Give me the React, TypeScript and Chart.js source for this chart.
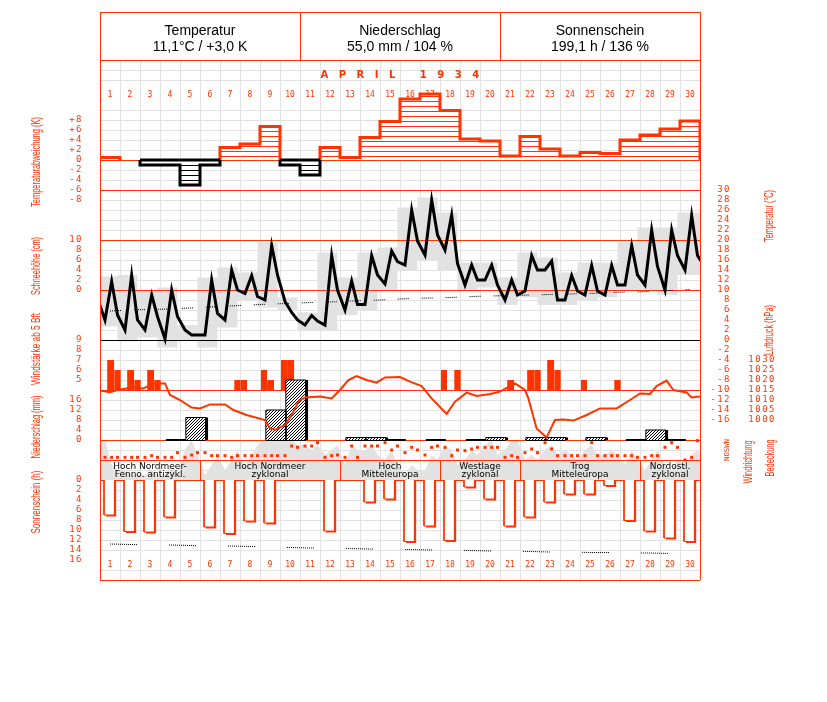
import React, { useEffect, useRef } from 'react';
import { Chart, registerables } from 'chart.js';

Chart.register(...registerables);

const RED = '#ff3300';
const GRID = '#e2e2e2';

// ---------- data ----------
const dayLabels = ['1','2','3','4','5','6','7','8','9','10','11','12','13','14','15','16','17','18','19','20','21','22','23','24','25','26','27','28','29','30'];
const obsHours = [6, 14, 21];

const headerTitles = ['Temperatur', 'Niederschlag', 'Sonnenschein'];
const headerValues = ['11,1°C / +3,0 K', '55,0 mm / 104 %', '199,1 h / 136 %'];
const monthTitle = 'APRIL 1934';

const tempAnomaly = [0.5, 0, -1.0, -1.0, -5.0, -1.0, 2.5, 3.2, 6.7, -1.0, -3.0, 2.5, 0.5, 4.5, 7.7, 12.2, 13.2, 9.9, 4.2, 3.8, 0.8, 4.7, 2.2, 0.8, 1.5, 1.3, 4.0, 5.0, 6.2, 7.8];

const temp06 = [4.0, 2.0, 2.0, 0.2, 2.0, 1.0, 4.0, 9.3, 8.0, 7.7, 3.0, 3.0, 6.0, 7.1, 11.2, 15.0, 17.0, 18.0, 11.0, 12.0, 8.0, 9.8, 14.0, 8.0, 9.0, 9.0, 11.0, 11.0, 10.0, 14.0];
const temp14 = [11.7, 13.0, 9.0, 10.0, 1.0, 12.0, 14.0, 12.9, 18.9, 5.5, 4.9, 16.9, 11.8, 16.9, 17.8, 26.0, 28.0, 25.0, 15.0, 15.0, 12.0, 16.9, 15.8, 12.9, 14.9, 14.9, 18.9, 22.0, 22.0, 24.9];
const temp21 = [5.0, 4.0, 4.7, 4.7, 1.0, 5.3, 10.0, 8.7, 13.0, 4.0, 3.8, 10.0, 7.1, 13.0, 15.7, 19.8, 21.0, 15.3, 12.0, 11.0, 9.0, 14.0, 8.0, 9.8, 9.8, 11.0, 13.0, 14.7, 16.9, 16.9];
const tempPrevEvening = 8.3;
const tempNextMorning = 14.5;
const tempMax = [12.7, 13.0, 9.8, 10.5, 3.0, 12.5, 14.5, 13.5, 19.5, 8.5, 5.5, 17.5, 12.5, 17.5, 18.5, 26.5, 28.5, 25.5, 15.5, 15.5, 12.5, 17.5, 16.5, 13.5, 15.5, 15.5, 19.5, 22.5, 22.5, 25.5];
const tempMin = [2.7, -0.3, 0.5, -1.5, 0.0, -1.5, 2.5, 8.0, 6.5, 6.0, 2.0, 2.0, 5.0, 6.0, 10.0, 14.0, 16.0, 14.0, 10.0, 10.5, 7.0, 8.5, 7.0, 7.0, 8.0, 8.5, 10.0, 10.0, 9.0, 13.0];
const tempNormal = [5.8, 6.0, 6.1, 6.2, 6.4, 6.6, 6.8, 7.0, 7.2, 7.3, 7.5, 7.6, 7.8, 7.9, 8.1, 8.3, 8.4, 8.5, 8.7, 8.8, 8.9, 9.0, 9.1, 9.2, 9.3, 9.5, 9.6, 9.7, 9.9, 10.1];

// wind force (Bft, only >= 5) per observation 6h / 14h / 21h
const wind06 = [null, null, null, null, null, null, null, 5, 6, 7, null, null, null, null, null, null, null, 6, null, null, null, null, null, null, 5, null, null, null, null, null];
const wind14 = [7, 6, 6, null, null, null, null, null, 5, 7, null, null, null, null, null, null, null, null, null, null, 5, 6, 7, null, null, null, null, null, null, null];
const wind21 = [6, 5, 5, null, null, null, 5, null, null, null, null, null, null, null, null, null, null, 6, null, null, null, 6, 6, null, null, 5, null, null, null, null];

// air pressure readings: [day (fraction of month), hPa]
const pressureReadings = [
  [0.0, 1014.7], [0.5, 1013.9], [1.0, 1015.3], [1.67, 1016.2], [2.15, 1015.8], [2.75, 1018.3], [3.25, 1018.3], [3.5, 1012.5],
  [4.0, 1010.0], [4.58, 1006.2], [5.0, 1005.8], [5.5, 1007.8], [6.25, 1007.8], [6.67, 1005.0], [7.33, 1002.5], [8.25, 1000.0],
  [8.5, 995.8], [8.75, 995.0], [9.25, 997.5], [9.58, 1002.5], [9.92, 1009.2], [10.25, 1011.3], [11.0, 1011.7], [11.58, 1010.8],
  [12.0, 1015.0], [12.42, 1020.0], [12.83, 1022.0], [13.33, 1020.0], [13.83, 1018.7], [14.25, 1021.3], [15.0, 1021.5], [15.5, 1019.2],
  [16.08, 1017.0], [16.58, 1010.8], [17.33, 1003.0], [17.75, 1009.2], [18.33, 1013.7], [18.83, 1012.0], [19.5, 1013.0], [20.0, 1014.2],
  [20.75, 1018.3], [21.25, 1015.0], [21.42, 1010.8], [21.83, 995.8], [22.33, 991.3], [22.75, 1000.0], [23.17, 1000.3], [23.67, 999.7],
  [24.33, 1002.5], [25.0, 1005.8], [25.83, 1005.8], [26.5, 1010.0], [27.0, 1013.3], [27.5, 1013.0], [27.83, 1017.0], [28.33, 1019.7],
  [28.67, 1015.0], [29.33, 1013.8], [29.58, 1011.3], [30.0, 1011.7]
];

// precipitation (mm, 7h to 7h), null = none, 0 = trace
const precipitation = [null, null, null, 0, 9.0, null, null, null, 12.0, 24.0, null, null, 1.0, 1.0, 0, null, 0, null, 0, 1.0, null, 1.0, 1.0, null, 1.0, null, 0, 4.0, 0, null];

// wind direction (degrees) per observation 6h / 14h / 21h
const dir06 = [48, 48, 48, 48, 48, 132, 78, 78, 78, 78, 252, 48, 48, 252, 312, 132, 90, 228, 168, 228, 48, 132, 312, 78, 78, 78, 78, 48, 228, 0];
const dir14 = [48, 48, 78, 48, 90, 78, 48, 78, 78, 252, 252, 78, 252, 252, 180, 228, 228, 78, 198, 228, 78, 198, 198, 78, 312, 78, 78, 78, 312, 48];
const dir21 = [48, 48, 48, 132, 132, 78, 78, 78, 78, 228, 312, 90, 48, 252, 252, 180, 252, 180, 228, 228, 48, 132, 78, 78, 78, 78, 48, 78, 228, 348];

// cloud cover (octas) per observation 6h / 14h / 21h
const cloud06 = [8, 2, 1, 1, 6, 1, 2, 3, 8, 8, 7, 5, 3, 6, 4, 1, 2, 7, 4, 7, 6, 4, 6, 6, 6, 5, 3, 2, 3, 3];
const cloud14 = [3, 1, 2, 3, 8, 3, 4, 5, 8, 8, 6, 6, 7, 7, 6, 3, 5, 6, 6, 8, 8, 5, 7, 5, 7, 6, 6, 4, 2, 5];
const cloud21 = [2, 1, 1, 1, 5, 5, 6, 7, 8, 7, 7, 7, 6, 5, 3, 2, 4, 3, 5, 5, 8, 4, 5, 4, 5, 5, 4, 6, 4, 6];

// sunshine duration (h) and possible sunshine (h)
const sunshine = [7.0, 10.3, 10.4, 7.4, 0, 9.4, 10.7, 8.2, 8.6, 0, 0, 10.2, 0, 4.4, 3.8, 12.3, 9.2, 12.1, 1.4, 3.8, 9.2, 7.4, 4.4, 2.8, 2.8, 1.1, 8.1, 10.2, 11.6, 12.3];
const sunPossible = [12.8, 12.9, 13.0, 13.0, 13.1, 13.2, 13.2, 13.3, 13.4, 13.5, 13.6, 13.6, 13.7, 13.8, 13.9, 13.9, 14.0, 14.0, 14.1, 14.2, 14.2, 14.3, 14.4, 14.4, 14.5, 14.5, 14.6, 14.6, 14.7, 14.7];

// weather types (Großwetterlagen)
const weatherStart = [1, 6, 13, 18, 22, 28];
const weatherEnd = [5, 12, 17, 21, 27, 30];
const weatherLine1 = ['Hoch Nordmeer-', 'Hoch Nordmeer', 'Hoch', 'Westlage', 'Trog', 'Nordostl.'];
const weatherLine2 = ['Fenno. antizykl.', 'zyklonal', 'Mitteleuropa', 'zyklonal', 'Mitteleuropa', 'zyklonal'];

// tick labels
const anomTicks = [8, 6, 4, 2, 0, -2, -4, -6, -8];
const anomTickLabels = ['+8', '+6', '+4', '+2', '0', '-2', '-4', '-6', '-8'];
const snowTicks = [10, 8, 6, 4, 2, 0];
const windTicks = [9, 8, 7, 6, 5];
const precipTicks = [16, 12, 8, 4, 0];
const sunTicks = [0, 2, 4, 6, 8, 10, 12, 14, 16];
const tempTicks = [30, 28, 26, 24, 22, 20, 18, 16, 14, 12, 10, 8, 6, 4, 2, 0, -2, -4, -6, -8, -10, -12, -14, -16];
const pressTicks = [1030, 1025, 1020, 1015, 1010, 1005, 1000];
const dirLabel = 'NOSWN';

// ---------- helpers ----------
const obsX = (d: number, k: number) => d + obsHours[k] / 24; // d = 0-based day index
const windSpans = [[1, 8.5], [8.5, 17], [17, 25]];

function runPoints(values: number[], pred: (v: number) => boolean) {
  const pts: any[] = [];
  let inRun = false;
  values.forEach((v, i) => {
    if (pred(v)) {
      if (!inRun) { pts.push({ x: i, y: 0 }); inRun = true; }
      pts.push({ x: i, y: v }, { x: i + 1, y: v });
    } else if (inRun) {
      pts.push({ x: i, y: 0 }, { x: i, y: null });
      inRun = false;
    }
  });
  if (inRun) pts.push({ x: values.length, y: 0 });
  return pts;
}

function runTops(values: number[], pred: (v: number) => boolean) {
  const pts: any[] = [];
  let start = -1;
  values.forEach((v, i) => {
    if (pred(v)) { if (start < 0) start = i; }
    else if (start >= 0) { pts.push({ x: start, y: 0 }, { x: i, y: 0 }, { x: i, y: null }); start = -1; }
  });
  if (start >= 0) pts.push({ x: start, y: 0 }, { x: values.length, y: 0 });
  return pts;
}

function rectPoints(items: { x0: number; x1: number; y0: number; y1: number }[]) {
  const pts: any[] = [];
  items.slice().sort((a, b) => a.x0 - b.x0).forEach((r) => {
    pts.push({ x: r.x0, y: r.y0 }, { x: r.x0, y: r.y1 }, { x: r.x1, y: r.y1 }, { x: r.x1, y: r.y0 }, { x: r.x1, y: null });
  });
  return pts;
}

function makePattern(kind: string) {
  const c = document.createElement('canvas');
  if (kind === 'hred' || kind === 'hblack') {
    c.width = 4; c.height = 5;
    const g = c.getContext('2d')!;
    g.fillStyle = '#ffffff'; g.fillRect(0, 0, 4, 5);
    g.fillStyle = kind === 'hred' ? RED : '#000000';
    g.fillRect(0, kind === 'hred' ? 1 : 0, 4, 1);
  } else {
    c.width = 3; c.height = 3;
    const g = c.getContext('2d')!;
    g.fillStyle = '#ffffff'; g.fillRect(0, 0, 3, 3);
    g.fillStyle = '#000000';
    for (let i = 0; i < 3; i++) g.fillRect(2 - i, i, 1, 1);
  }
  const ctx = document.createElement('canvas').getContext('2d')!;
  return ctx.createPattern(c, 'repeat');
}

function dotDash(dotLen: number, gap: number) {
  const arr: number[] = [];
  for (let i = 0; i < dotLen / 2; i++) arr.push(1, 1);
  arr[arr.length - 1] = gap;
  return arr;
}

function rotatedText(ctx: any, text: string, cx: number, cy: number, len: number, font: string, color: string) {
  ctx.save();
  ctx.font = font;
  ctx.fillStyle = color;
  ctx.textAlign = 'center';
  ctx.textBaseline = 'middle';
  ctx.translate(cx, cy);
  ctx.rotate(-Math.PI / 2);
  const w = ctx.measureText(text).width;
  ctx.scale(len / w, 1);
  ctx.fillText(text, 0, 0);
  ctx.restore();
}

function hLine(ctx: any, y: number, x0: number, x1: number, color: string, w = 1) {
  ctx.save();
  ctx.strokeStyle = color; ctx.lineWidth = w;
  const yy = Math.round(y) + (w % 2 ? 0.5 : 0);
  ctx.beginPath(); ctx.moveTo(x0, yy); ctx.lineTo(x1, yy); ctx.stroke();
  ctx.restore();
}
function vLine(ctx: any, x: number, y0: number, y1: number, color: string, w = 1) {
  ctx.save();
  ctx.strokeStyle = color; ctx.lineWidth = w;
  const xx = Math.round(x) + (w % 2 ? 0.5 : 0);
  ctx.beginPath(); ctx.moveTo(xx, y0); ctx.lineTo(xx, y1); ctx.stroke();
  ctx.restore();
}

const TICK_FONT = "9px 'DejaVu Sans Mono', monospace";
const DAY_FONT = "8px 'DejaVu Sans Mono', monospace";
const TITLE_FONT = "12px 'Liberation Sans', 'DejaVu Sans', sans-serif";

const decor = {
  id: 'decor',
  beforeDatasetsDraw(chart: any) {
    const { ctx, chartArea: a, scales } = chart;
    const x = scales.x, yT = scales.yTemp;
    for (let d = 1; d < 30; d++) vLine(ctx, x.getPixelForValue(d), a.top, a.bottom, GRID);
    for (let v = 54; v > -48; v -= 2) {
      const y = yT.getPixelForValue(v);
      if (Math.abs(y - 90) < 1 || Math.abs(y - 100) < 1 || Math.abs(y - 560) < 1) continue;
      hLine(ctx, y, a.left, a.right, GRID);
    }
  },
  afterDatasetDraw(chart: any, args: any) {
    if (chart.data.datasets[args.index].label !== 'Tmin') return;
    const { ctx, chartArea: a, scales } = chart;
    const x = scales.x;
    // panel separators
    hLine(ctx, scales.yAnom.getPixelForValue(0), a.left, a.right, RED);
    [30, 20, 10].forEach((v) => hLine(ctx, scales.yTemp.getPixelForValue(v), a.left, a.right, RED));
    hLine(ctx, scales.yWind.getPixelForValue(4), a.left, a.right, RED);
    hLine(ctx, scales.yPrecip.getPixelForValue(0), a.left, a.right, RED);
    hLine(ctx, scales.yDir.getPixelForValue(0), a.left, a.right, RED);
    hLine(ctx, scales.ySun.getPixelForValue(0), a.left, a.right, RED);
    // weather types
    const yTop = scales.yDir.getPixelForValue(0), yBot = scales.ySun.getPixelForValue(0);
    ctx.save();
    ctx.font = "9px 'DejaVu Sans', sans-serif";
    ctx.fillStyle = '#000';
    ctx.textAlign = 'center';
    ctx.textBaseline = 'middle';
    weatherStart.forEach((s, i) => {
      const xs = x.getPixelForValue(s - 1), xe = x.getPixelForValue(weatherEnd[i]);
      if (i > 0) vLine(ctx, xs, yTop, yBot, RED);
      const cx = (xs + xe) / 2;
      ctx.fillText(weatherLine1[i], cx, yTop + 7);
      ctx.fillText(weatherLine2[i], cx, yTop + 14.5);
    });
    ctx.restore();
    // day labels
    ctx.save();
    ctx.font = DAY_FONT;
    ctx.fillStyle = RED;
    ctx.textAlign = 'center';
    ctx.textBaseline = 'middle';
    dayLabels.forEach((l, i) => {
      const cx = x.getPixelForValue(i + 0.5);
      ctx.fillText(l, cx, a.top + 35);
      ctx.fillText(l, cx, a.bottom - 15);
    });
    // month title
    ctx.font = "bold 10px 'DejaVu Sans', sans-serif";
    (ctx as any).letterSpacing = '10.5px';
    ctx.textAlign = 'center';
    ctx.fillText(monthTitle, (a.left + a.right) / 2 + 5, a.top + 15);
    (ctx as any).letterSpacing = '0px';
    ctx.restore();
  },
  afterDatasetsDraw(chart: any) {
    const { ctx, chartArea: a, scales } = chart;
    // black zero line of temperature
    hLine(ctx, scales.yTemp.getPixelForValue(0), a.left, a.right, '#000');
    // frame & header
    const hTop = a.top - 48;
    vLine(ctx, a.left, hTop, a.bottom, RED);
    vLine(ctx, a.right, hTop, a.bottom, RED);
    hLine(ctx, hTop, a.left, a.right, RED);
    hLine(ctx, a.top, a.left, a.right, RED);
    hLine(ctx, a.bottom, a.left, a.right, RED);
    const cw = (a.right - a.left) / 3;
    vLine(ctx, a.left + cw, hTop, a.top, RED);
    vLine(ctx, a.left + 2 * cw, hTop, a.top, RED);
    ctx.save();
    ctx.font = "14px 'Liberation Sans', Arial, sans-serif";
    ctx.fillStyle = '#000';
    ctx.textAlign = 'center';
    ctx.textBaseline = 'middle';
    headerTitles.forEach((t, i) => {
      const cx = a.left + cw * (i + 0.5);
      ctx.fillText(t, cx, hTop + 19);
      ctx.fillText(headerValues[i], cx, hTop + 35);
    });
    ctx.restore();
    // tick labels
    ctx.save();
    ctx.font = TICK_FONT;
    (ctx as any).letterSpacing = '1.5px';
    ctx.fillStyle = RED;
    ctx.textAlign = 'right';
    ctx.textBaseline = 'middle';
    const lx = a.left - 17;
    anomTicks.forEach((v, i) => ctx.fillText(anomTickLabels[i], lx, scales.yAnom.getPixelForValue(v)));
    snowTicks.forEach((v) => ctx.fillText(String(v), lx, scales.ySnow.getPixelForValue(v)));
    windTicks.forEach((v) => ctx.fillText(String(v), lx, scales.yWind.getPixelForValue(v)));
    precipTicks.forEach((v) => ctx.fillText(String(v), lx, scales.yPrecip.getPixelForValue(v)));
    sunTicks.forEach((v) => ctx.fillText(String(v), lx, scales.ySun.getPixelForValue(v)));
    tempTicks.forEach((v) => ctx.fillText(String(v), a.right + 31, scales.yTemp.getPixelForValue(v)));
    pressTicks.forEach((v) => ctx.fillText(String(v), a.right + 76, scales.yPress.getPixelForValue(v)));
    (ctx as any).letterSpacing = '0px';
    ctx.restore();
    // titles
    rotatedText(ctx, 'Temperaturabweichung (K)', 37, 162, 90, TITLE_FONT, RED);
    rotatedText(ctx, 'Schneehöhe (cm)', 37, 266, 58, TITLE_FONT, RED);
    rotatedText(ctx, 'Windstärke ab 5 Bft', 37, 349, 72, TITLE_FONT, RED);
    rotatedText(ctx, 'Niederschlag (mm)', 37, 427, 63, TITLE_FONT, RED);
    rotatedText(ctx, 'Sonnenschein (h)', 37, 502, 63, TITLE_FONT, RED);
    rotatedText(ctx, 'Temperatur (°C)', 770, 216, 52, TITLE_FONT, RED);
    rotatedText(ctx, 'Luftdruck (hPa)', 770, 330, 50, TITLE_FONT, RED);
    rotatedText(ctx, 'Windrichtung', 749, 462, 43, TITLE_FONT, RED);
    rotatedText(ctx, 'Bedeckung', 771, 458, 37, TITLE_FONT, RED);
    rotatedText(ctx, dirLabel, 727, 450, 22, "7px 'DejaVu Sans Mono', monospace", RED);
  },
};

function buildConfig() {
  const hRed = makePattern('hred');
  const hBlack = makePattern('hblack');
  const diag = makePattern('diag');

  const base = { type: 'line', pointRadius: 0, tension: 0, spanGaps: false, xAxisID: 'x' };

  // cloud cover
  const cloudPts: any[] = [{ x: 0, y: cloud06[0] }];
  cloud06.forEach((_, d) => {
    cloudPts.push({ x: obsX(d, 0), y: cloud06[d] }, { x: obsX(d, 1), y: cloud14[d] }, { x: obsX(d, 2), y: cloud21[d] });
  });
  cloudPts.push({ x: 30, y: cloud21[29] });

  // temperature boxes
  const boxShift = -3 / 24;
  const tmaxPts: any[] = [], tminPts: any[] = [];
  tempMax.forEach((v, d) => {
    const x0 = Math.max(0, d + boxShift), x1 = d === 29 ? 30 : d + 1 + boxShift;
    tmaxPts.push({ x: x0, y: v }, { x: x1, y: v });
    tminPts.push({ x: x0, y: tempMin[d] }, { x: x1, y: tempMin[d] });
  });

  const tempPts: any[] = [{ x: boxShift, y: tempPrevEvening }];
  temp06.forEach((_, d) => {
    tempPts.push({ x: obsX(d, 0), y: temp06[d] }, { x: obsX(d, 1), y: temp14[d] }, { x: obsX(d, 2), y: temp21[d] });
  });
  tempPts.push({ x: 30 + obsHours[0] / 24, y: tempNextMorning });

  const windRects: any[] = [];
  [wind06, wind14, wind21].forEach((arr, k) => arr.forEach((v, d) => {
    if (v != null) windRects.push({ x0: d + windSpans[k][0] / 24, x1: d + windSpans[k][1] / 24, y0: 4, y1: v });
  }));

  const pStart = 7 / 24;
  const precipRects: any[] = [], precipShadow: any[] = [], precipBase: any[] = [];
  precipitation.forEach((v, d) => {
    if (v == null) return;
    const x0 = d + pStart, x1 = d + 1 + pStart;
    precipBase.push({ x: x0, y: 0 }, { x: x1, y: 0 }, { x: x1, y: null });
    if (v > 0) {
      precipRects.push({ x0, x1, y0: 0, y1: v });
      precipShadow.push({ x0: x0 + 0.12, x1: x1 + 0.12, y0: 0, y1: v });
    }
  });

  const dirPts: any[] = [];
  dir06.forEach((_, d) => {
    dirPts.push({ x: obsX(d, 0), y: dir06[d] }, { x: obsX(d, 1), y: dir14[d] }, { x: obsX(d, 2), y: dir21[d] });
  });

  const sunRects: any[] = [], sunShadow: any[] = [];
  sunshine.forEach((v, d) => {
    if (!v) return;
    sunRects.push({ x0: d + 0.2, x1: d + 0.72, y0: 0, y1: v });
    sunShadow.push({ x0: d + 0.3, x1: d + 0.82, y0: 0, y1: v + 0.3 });
  });

  const datasets: any[] = [
    { ...base, label: 'Bedeckung', yAxisID: 'yCloud', data: cloudPts, borderWidth: 0, fill: { value: 0 }, backgroundColor: '#e2e2e2' },
    { ...base, label: 'Tmax', yAxisID: 'yTemp', data: tmaxPts, borderWidth: 0, fill: '+1', backgroundColor: '#e2e2e2' },
    { ...base, label: 'Tmin', yAxisID: 'yTemp', data: tminPts, borderWidth: 0, fill: false },
    { ...base, label: 'Tnormal', yAxisID: 'yTemp', data: tempNormal.map((v, d) => ({ x: d + 0.5, y: v })), borderColor: '#000', borderWidth: 1, borderDash: dotDash(12, 13) },
    { ...base, label: 'Temperatur', yAxisID: 'yTemp', data: tempPts, borderColor: '#000', borderWidth: 3, borderJoinStyle: 'miter' },
    { ...base, label: 'Abweichung+', yAxisID: 'yAnom', data: runPoints(tempAnomaly, (v) => v > 0), borderColor: RED, borderWidth: 3, fill: { value: 0 }, backgroundColor: hRed, borderJoinStyle: 'miter' },
    { ...base, label: 'Abweichung-', yAxisID: 'yAnom', data: runPoints(tempAnomaly, (v) => v < 0), borderColor: '#000', borderWidth: 3, fill: { value: 0 }, backgroundColor: hBlack, borderJoinStyle: 'miter' },
    { ...base, label: 'Abweichung-top', yAxisID: 'yAnom', data: runTops(tempAnomaly, (v) => v < 0), borderColor: '#000', borderWidth: 3 },
    { ...base, label: 'Wind', yAxisID: 'yWind', data: rectPoints(windRects), borderWidth: 0, fill: { value: 4 }, backgroundColor: RED },
    { ...base, label: 'NiederschlagBasis', yAxisID: 'yPrecip', data: precipBase, borderColor: '#000', borderWidth: 2 },
    { ...base, label: 'NiederschlagSchatten', yAxisID: 'yPrecip', data: rectPoints(precipShadow), borderWidth: 0, fill: { value: 0 }, backgroundColor: '#000' },
    { ...base, label: 'Niederschlag', yAxisID: 'yPrecip', data: rectPoints(precipRects), borderColor: '#000', borderWidth: 1, fill: { value: 0 }, backgroundColor: diag },
    { ...base, label: 'Luftdruck', yAxisID: 'yPress', data: pressureReadings.map((p) => ({ x: p[0], y: p[1] })), borderColor: RED, borderWidth: 2 },
    { ...base, label: 'Windrichtung', yAxisID: 'yDir', data: dirPts, showLine: false, pointRadius: 2.1, pointStyle: 'rect', pointBackgroundColor: RED, pointBorderWidth: 0 },
    { ...base, label: 'SonneSchatten', yAxisID: 'ySun', data: rectPoints(sunShadow), borderWidth: 0, fill: { value: 0 }, backgroundColor: RED },
    { ...base, label: 'Sonnenschein', yAxisID: 'ySun', data: rectPoints(sunRects), borderColor: RED, borderWidth: 1, fill: { value: 0 }, backgroundColor: '#ffffff' },
    { ...base, label: 'SonneMoeglich', yAxisID: 'ySun', data: sunPossible.map((v, d) => ({ x: d + 0.5, y: v })), borderColor: '#000', borderWidth: 1, borderDash: dotDash(28, 32) },
  ];
  datasets.forEach((ds, i) => { ds.order = 100 - i; });

  const lin = (min: number, max: number, extra: any = {}) => ({ type: 'linear', axis: 'y', min, max, display: false, ...extra });

  return {
    type: 'line',
    data: { datasets },
    options: {
      responsive: false,
      animation: false,
      devicePixelRatio: 1,
      events: [],
      layout: { padding: { left: 100, right: 127, top: 60, bottom: 122 } },
      plugins: { legend: { display: false }, tooltip: { enabled: false } },
      scales: {
        x: { type: 'linear', axis: 'x', min: 0, max: 30, display: false },
        yAnom: lin(-84, 20),
        ySnow: lin(-58, 46),
        yTemp: lin(-48, 56),
        yWind: lin(-15, 37),
        yPress: lin(920, 1180),
        yPrecip: lin(-56, 152),
        yDir: lin(-2160, 7200),
        yCloud: lin(-20, 84),
        ySun: lin(-84, 20, { reverse: true }),
      },
    },
    plugins: [decor],
  };
}

export default function App() {
  const ref = useRef<HTMLCanvasElement>(null);
  useEffect(() => {
    const canvas = ref.current!;
    const chart = new Chart(canvas, buildConfig() as any);
    return () => chart.destroy();
  }, []);
  return (
    <div style={{ position: 'absolute', left: 0, top: 0, width: 827, height: 702, background: '#ffffff' }}>
      <canvas ref={ref} width={827} height={702} style={{ width: 827, height: 702, display: 'block' }} />
    </div>
  );
}
